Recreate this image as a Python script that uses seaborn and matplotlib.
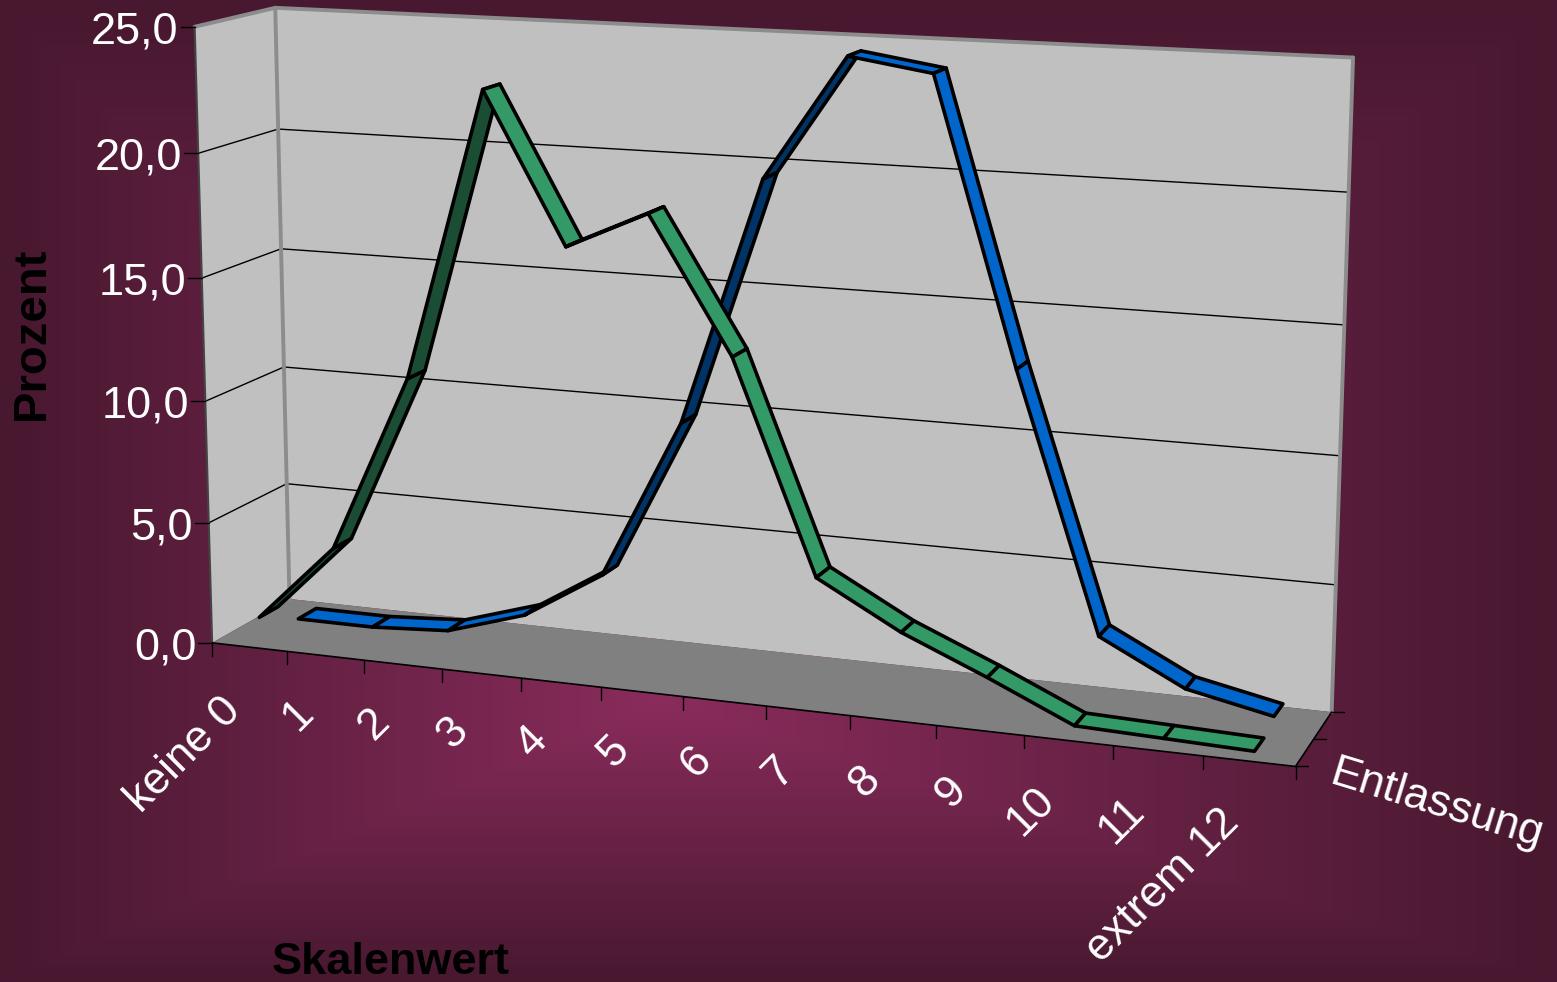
import numpy as np
import pandas as pd
import seaborn as sns
import matplotlib
matplotlib.use("Agg")
import matplotlib.pyplot as plt
from matplotlib.colors import LinearSegmentedColormap

# ---- data ----
categories = ["keine 0", "1", "2", "3", "4", "5", "6", "7", "8", "9", "10", "11", "extrem 12"]
aufnahme = [1.0, 4.2, 11.4, 23.0, 17.1, 18.6, 13.3, 5.0, 3.2, 1.8, 0.3, 0.2, 0.1]
entlassung = [0.0, 0.0, 0.2, 1.2, 3.2, 9.7, 19.6, 24.5, 24.0, 12.9, 2.8, 1.1, 0.4]
y_ticks = [0, 5, 10, 15, 20, 25]
y_labels = ["0,0", "5,0", "10,0", "15,0", "20,0", "25,0"]
depth_label = "Entlassung"
x_title = "Skalenwert"
y_title = "Prozent"

# ---- style ----
sns.set_theme(style="white")
plt.rcParams["font.family"] = ["Liberation Sans", "DejaVu Sans"]
W, H = 1557, 982
fig = plt.figure(figsize=(W / 100, H / 100), dpi=100)
ax = fig.add_axes([0, 0, 1, 1])

# ---- background ----
yy, xx = np.mgrid[0:H, 0:W]
dx = (xx - 660) / np.where(xx < 660, 660, 897)
dy = (yy - 700) / np.where(yy < 700, 700, 282)
t = np.clip(np.maximum(np.abs(dx), np.abs(dy)), 0, 1)
cmap = LinearSegmentedColormap.from_list("bg", ["#8a2c5c", "#47182f"])
ax.imshow(t, cmap=cmap, vmin=0, vmax=1, extent=(0, W, H, 0), aspect="auto", zorder=0)

# ---- perspective camera fitted to the chart box ----
NX = len(categories)
calib = [
    ((0, 0, 0), (212, 643)), ((0, 25, 0), (195, 26)),
    ((0, 0, 1), (290, 597)), ((0, 25, 1), (275, 8)),
    ((NX, 0, 0), (1295, 767)), ((NX, 0, 1), (1332, 713)),
    ((NX, 25, 1), (1353, 58)), ((0, 5, 0), (209, 523)),
    ((0, 5, 1), (286, 486)), ((NX, 5, 1), (1336, 583)),
]
A, b = [], []
for (X, Y, Z), (u, v) in calib:
    A.append([X, Y, Z, 1, 0, 0, 0, 0, -u * X, -u * Y, -u * Z]); b.append(u)
    A.append([0, 0, 0, 0, X, Y, Z, 1, -v * X, -v * Y, -v * Z]); b.append(v)
p = np.linalg.lstsq(np.array(A, float), np.array(b, float), rcond=None)[0]
P = np.append(p, 1).reshape(3, 4)


def proj(X, Y, Z):
    w = P @ np.array([X, Y, Z, 1.0])
    return w[0] / w[2], w[1] / w[2]


def poly(pts, **kw):
    arr = np.array([proj(*q) for q in pts])
    ax.fill(arr[:, 0], arr[:, 1], **kw)


# ---- walls and floor ----
poly([(0, 0, 0), (0, 25, 0), (0, 25, 1), (0, 0, 1)], fc="#c0c0c0", ec="none", zorder=1)
poly([(0, 0, 1), (0, 25, 1), (NX, 25, 1), (NX, 0, 1)], fc="#c0c0c0", ec="none", zorder=1)
poly([(0, 0, 0), (NX, 0, 0), (NX, 0, 1), (0, 0, 1)], fc="#808080", ec="none", zorder=1)

# ---- gridlines and frame, drawn with seaborn ----
def segments(items):
    rows = []
    for i, (a, c) in enumerate(items):
        for q in (a, c):
            u, v = proj(*q)
            rows.append({"u": u, "v": v, "seg": i})
    return pd.DataFrame(rows)


def draw(items, color, lw, z):
    sns.lineplot(data=segments(items), x="u", y="v", units="seg", estimator=None, sort=False,
                 color=color, linewidth=lw, legend=False, ax=ax, zorder=z)


grid = []
for yv in y_ticks[1:-1]:
    grid.append(((0, yv, 0), (0, yv, 1)))
    grid.append(((0, yv, 1), (NX, yv, 1)))
draw(grid, "#000000", 1.0, 2)
draw([((0, 25, 0), (0, 25, 1)), ((0, 25, 1), (NX, 25, 1)), ((0, 0, 1), (0, 25, 1)), ((NX, 0, 1), (NX, 25, 1))],
     "#8c8c8c", 2.8, 2)
draw([((0, 0, 0), (0, 25, 0))], "#444444", 1.5, 2)
draw([((0, 0, 0), (NX, 0, 0)), ((NX, 0, 0), (NX, 0, 1))], "#000000", 1.2, 3)

# ---- ticks ----
rows = []
seg = 0
for yv in y_ticks:
    u, v = proj(0, yv, 0)
    rows += [{"u": u - 14, "v": v, "seg": seg}, {"u": u, "v": v, "seg": seg}]
    seg += 1
for i in range(NX + 1):
    u, v = proj(i, 0, 0)
    rows += [{"u": u, "v": v, "seg": seg}, {"u": u, "v": v + 13, "seg": seg}]
    seg += 1
for zv in (0, 0.5, 1):
    u, v = proj(NX, 0, zv)
    rows += [{"u": u, "v": v, "seg": seg}, {"u": u + 12, "v": v, "seg": seg}]
    seg += 1
sns.lineplot(data=pd.DataFrame(rows), x="u", y="v", units="seg", estimator=None, sort=False,
             color="#000000", linewidth=1.0, legend=False, ax=ax, zorder=3)

# ---- ribbons ----
def ribbon(values, z0, z1, bright, dark, zorder):
    for i in range(len(values) - 1):
        f0 = np.array(proj(i + 0.5, values[i], z0))
        f1 = np.array(proj(i + 1.5, values[i + 1], z0))
        b0 = np.array(proj(i + 0.5, values[i], z1))
        d1, d2 = f1 - f0, b0 - f0
        up = d1[0] * d2[1] - d1[1] * d2[0] < 0
        poly([(i + 0.5, values[i], z0), (i + 1.5, values[i + 1], z0),
              (i + 1.5, values[i + 1], z1), (i + 0.5, values[i], z1)],
             fc=bright if up else dark, ec="#000000", lw=2.6, joinstyle="round", zorder=zorder + i * 0.01)


ribbon(entlassung, 0.63, 0.87, "#0066cc", "#003366", 4)
ribbon(aufnahme, 0.13, 0.37, "#339966", "#1a4d33", 5)

# ---- text ----
for yv, lab in zip(y_ticks, y_labels):
    u, v = proj(0, yv, 0)
    ax.text(u - 16, v + 5, lab, color="white", fontsize=32.5, ha="right", va="center", zorder=6)
for i, lab in enumerate(categories):
    u, v = proj(i + 0.5, 0, 0)
    ox, oy = (-15, 57) if i == 0 else (-19 - 0.1 * i, 50 + 0.3 * i)
    if i == len(categories) - 1:
        ox, oy = ox + 4, oy + 1
    ax.text(u + ox, v + oy, lab, color="white", fontsize=32, rotation=45, rotation_mode="anchor",
            ha="right", va="center", zorder=6)
ax.text(1437, 805, depth_label, color="white", fontsize=32, rotation=-17, rotation_mode="anchor",
        ha="center", va="center", zorder=6)
ax.text(391, 963, x_title, color="black", fontsize=32.5, fontweight="bold", ha="center", va="center", zorder=6)
ax.text(32, 333, y_title, color="black", fontsize=34, fontweight="bold", rotation=90, ha="center", va="center", zorder=6)

ax.set_xlim(0, W)
ax.set_ylim(H, 0)
ax.set_xlabel("")
ax.set_ylabel("")
ax.axis("off")
fig.savefig("out.png", dpi=100)
